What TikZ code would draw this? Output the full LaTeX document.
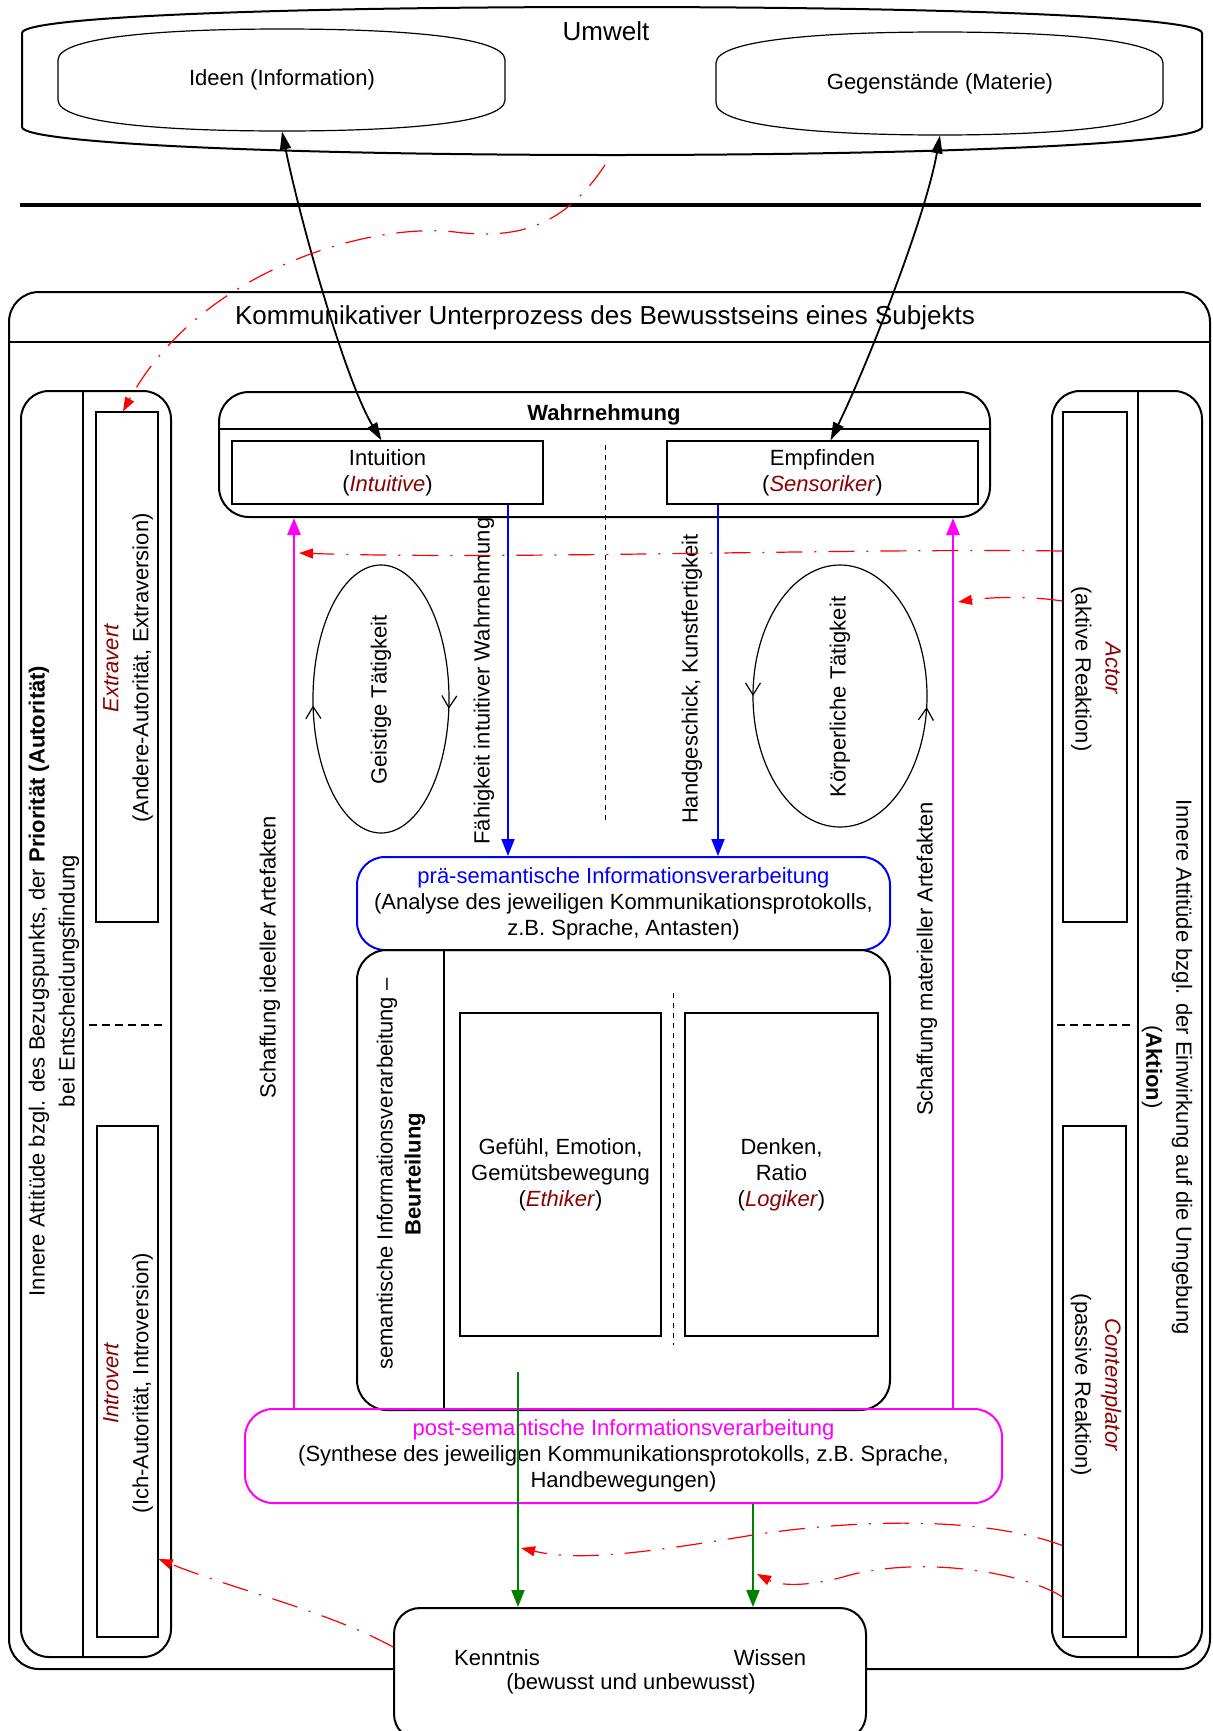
\documentclass[tikz,border=0pt]{standalone}
\usepackage{fontspec}
\setmainfont{Liberation Sans}
\usetikzlibrary{arrows.meta,decorations.markings}
\definecolor{darkred}{RGB}{139,0,0}
\definecolor{darkgreen}{RGB}{0,128,0}
\definecolor{pmagenta}{RGB}{255,0,255}
\definecolor{pblue}{RGB}{0,0,255}
\newcommand{\ptyp}[1]{\textcolor{darkred}{\textit{#1}}}

\begin{document}
\begin{tikzpicture}[x=0.5pt,y=-0.5pt,
  every node/.style={font=\fontsize{11}{13}\selectfont, inner sep=0pt, align=center},
  bigbox/.style={draw, line width=1pt, rounded corners=15pt},
  smallbox/.style={draw, line width=0.6pt},
  sidetext/.style={font=\fontsize{11}{15}\selectfont},
  titletext/.style={font=\fontsize{13}{15}\selectfont},
  middash/.style={line width=0.5pt, dash pattern=on 2.5pt off 2.5pt},
  paneldash/.style={line width=0.6pt, dash pattern=on 4pt off 2.5pt},
  blackarrow/.style={line width=0.9pt, {Triangle[length=9pt,width=5.5pt]}-{Triangle[length=9pt,width=5.5pt]}},
  bluearrow/.style={pblue, line width=1pt, -{Triangle[length=8.5pt,width=6.5pt]}},
  magentaarrow/.style={pmagenta, line width=1.4pt, -{Triangle[length=8.5pt,width=6.5pt]}},
  greenarrow/.style={darkgreen, line width=1pt, -{Triangle[length=8.5pt,width=6.5pt]}},
  redarrow/.style={red, line width=0.6pt, dash pattern=on 13pt off 6pt on 1pt off 6pt, -{Triangle[length=7pt,width=5pt]}},
  turncw/.style={postaction={decorate,decoration={markings,
    mark=at position 0.015 with {\arrow{Straight Barb[length=6pt,width=7.5pt]}},
    mark=at position 0.49 with {\arrow{Straight Barb[length=6pt,width=7.5pt]}}}}},
  turnccw/.style={postaction={decorate,decoration={markings,
    mark=at position 0.016 with {\arrowreversed{Straight Barb[length=6pt,width=7.5pt]}},
    mark=at position 0.5 with {\arrowreversed{Straight Barb[length=6pt,width=7.5pt]}}}}}]
  \useasboundingbox (0,0) rectangle (1212,1731);

  % Umwelt
  \draw[line width=1pt] (22,127) -- (22,33) .. controls (22,16) and (300,7) .. (612,7) .. controls (924,7) and (1202,16) .. (1202,33) -- (1202,127) .. controls (1202,144) and (924,155) .. (612,155) .. controls (300,155) and (22,144) .. (22,127) -- cycle;
  \node[titletext] (umwelt) at (606,31) {Umwelt};
  \draw[line width=0.6pt] (58,100) -- (58,60) .. controls (58,36) and (170,29) .. (282,29) .. controls (394,29) and (505,36) .. (505,60) -- (505,100) .. controls (505,124) and (394,131) .. (282,131) .. controls (170,131) and (58,124) .. (58,100) -- cycle;
  \node[minimum width=223.5pt, minimum height=51pt] (ideen) at (282,80) {Ideen (Information)};
  \draw[line width=0.6pt] (716,103) -- (716,63) .. controls (716,39) and (828,32) .. (940,32) .. controls (1052,32) and (1163,39) .. (1163,63) -- (1163,103) .. controls (1163,127) and (1052,135) .. (940,135) .. controls (828,135) and (716,127) .. (716,103) -- cycle;
  \node[minimum width=223.5pt, minimum height=51.5pt] (gegen) at (940,83.5) {Gegenstände (Materie)};
  \draw[line width=2pt] (20,205) -- (1201,205);

  % Subjekt
  \node[bigbox, minimum width=600.5pt, minimum height=688.5pt] (kbox) at (609.5,980.5) {};
  \node[titletext] (ktitle) at (605,318) {Kommunikativer Unterprozess des Bewusstseins eines Subjekts};
  \draw[line width=0.6pt] (9,342) -- (1210,342);

  % linke Attituede
  \node[bigbox, rounded corners=14pt, minimum width=75pt, minimum height=633pt] (leftp) at (96,1024) {};
  \draw[line width=0.6pt] (83,391) -- (83,1657);
  \draw[paneldash] (89,1025) -- (165,1025);
  \node[sidetext, rotate=90] (lefttext) at (54,981) {Innere Attitüde bzgl. des Bezugspunkts, der \textbf{Priorität (Autorität)}\\bei Entscheidungsfindung};
  \node[smallbox, minimum width=31pt, minimum height=255pt] (extra) at (127,667) {};
  \node[sidetext, rotate=90] (extratext) at (128,668) {\ptyp{Extravert}\\(Andere-Autorität, Extraversion)};
  \node[smallbox, minimum width=30.5pt, minimum height=255.5pt] (intro) at (127.5,1381.5) {};
  \node[sidetext, rotate=90] (introtext) at (128,1383) {\ptyp{Introvert}\\(Ich-Autorität, Introversion)};

  % rechte Attituede
  \node[bigbox, rounded corners=14pt, minimum width=75pt, minimum height=633pt] (rightp) at (1127,1024) {};
  \draw[line width=0.6pt] (1138,391) -- (1138,1657);
  \draw[paneldash] (1057,1025) -- (1133,1025);
  \node[sidetext, rotate=-90] (righttext) at (1167,1067) {Innere Attitüde bzgl. der Einwirkung auf die Umgebung\\(\textbf{Aktion})};
  \node[smallbox, minimum width=32pt, minimum height=255pt] (actor) at (1095,667) {};
  \node[sidetext, rotate=-90] (actortext) at (1096,669) {\ptyp{Actor}\\(aktive Reaktion)};
  \node[smallbox, minimum width=31.5pt, minimum height=255.5pt] (contemp) at (1094.5,1381.5) {};
  \node[sidetext, rotate=-90] (contemptext) at (1096,1385) {\ptyp{Contemplator}\\(passive Reaktion)};

  % Wahrnehmung
  \node[bigbox, minimum width=385.5pt, minimum height=62.5pt] (wahr) at (604.5,454.5) {};
  \draw[line width=0.7pt] (219,429) -- (990,429);
  \node[font=\fontsize{11}{13}\selectfont\bfseries] (wahrtitle) at (604,415) {Wahrnehmung};
  \node[smallbox, minimum width=155.5pt, minimum height=31.5pt] (intu) at (387.5,472.5) {Intuition\\(\ptyp{Intuitive})};
  \node[smallbox, minimum width=155.5pt, minimum height=31.5pt] (empf) at (822.5,472.5) {Empfinden\\(\ptyp{Sensoriker})};
  \draw[middash] (605,445) -- (605,822);

  % Taetigkeiten
  \draw[line width=0.6pt, turncw] (381,699) ellipse [x radius=68, y radius=134];
  \node[rotate=90] (geisttext) at (381,700) {Geistige Tätigkeit};
  \draw[line width=0.6pt, turnccw] (840,696) ellipse [x radius=87, y radius=131];
  \node[rotate=90] (koerptext) at (840,697) {Körperliche Tätigkeit};
  \node[rotate=90] (faehig) at (484,681) {Fähigkeit intuitiver Wahrnehmung};
  \node[rotate=90] (handg) at (692,679) {Handgeschick, Kunstfertigkeit};
  \node[rotate=90] (ideell) at (270,957) {Schaffung ideeller Artefakten};
  \node[rotate=90] (materiell) at (927,959) {Schaffung materieller Artefakten};

  % Verarbeitung
  \node[draw=pblue, line width=1pt, rounded corners=14pt, minimum width=266.5pt, minimum height=46.5pt] (pre) at (623.5,903.5) {\textcolor{pblue}{prä-semantische Informationsverarbeitung}\\(Analyse des jeweiligen Kommunikationsprotokolls,\\z.B. Sprache, Antasten)};
  \node[bigbox, minimum width=266.5pt, minimum height=230pt] (sem) at (623.5,1180) {};
  \draw[line width=0.6pt] (444,950) -- (444,1410);
  \node[rotate=90, font=\fontsize{11}{14}\selectfont] (semtext) at (401,1174) {semantische Informationsverarbeitung –\\\textbf{Beurteilung}};
  \node[smallbox, minimum width=100.5pt, minimum height=161.5pt] (gef) at (560.5,1174.5) {Gefühl, Emotion,\\Gemütsbewegung\\(\ptyp{Ethiker})};
  \node[smallbox, minimum width=96.5pt, minimum height=161.5pt] (denk) at (781.5,1174.5) {Denken,\\Ratio\\(\ptyp{Logiker})};
  \draw[middash] (673,993) -- (673,1345);
  \node[draw=pmagenta, line width=1pt, rounded corners=14pt, minimum width=378.5pt, minimum height=47pt] (post) at (623.5,1456) {\textcolor{pmagenta}{post-semantische Informationsverarbeitung}\\(Synthese des jeweiligen Kommunikationsprotokolls, z.B. Sprache,\\Handbewegungen)};

  % Kenntnis
  \node[bigbox, rounded corners=13pt, fill=white, minimum width=236pt, minimum height=66pt] (kenn) at (630,1674) {};
  \node (kenntnis) at (497,1658) {Kenntnis};
  \node (wissen) at (770,1658) {Wissen};
  \node (bewusst) at (631,1684) {(bewusst und unbewusst)};

  % Pfeile
  \draw[blackarrow] (ideen.south) .. controls (300,220) and (345,380) .. ([xshift=-3pt]intu.north);
  \draw[blackarrow] (gegen.south) .. controls (925,220) and (865,370) .. ([xshift=4pt]empf.north);
  \coordinate (xfaehig) at (508,0);
  \coordinate (xhand) at (718,0);
  \draw[bluearrow] (intu.south -| xfaehig) -- (pre.north -| xfaehig);
  \draw[bluearrow] (empf.south -| xhand) -- (pre.north -| xhand);
  \coordinate (xideell) at (294,0);
  \coordinate (xmateriell) at (953,0);
  \draw[magentaarrow] (post.north -| xideell) -- (wahr.south -| xideell);
  \draw[magentaarrow] (post.north -| xmateriell) -- (wahr.south -| xmateriell);
  \coordinate (semfoot) at (518,1372);
  \coordinate (xwissen) at (753,0);
  \draw[greenarrow] (semfoot) -- (kenn.north -| semfoot);
  \draw[greenarrow] (post.south -| xwissen) -- (kenn.north -| xwissen);

  % Einfluesse
  \coordinate (umweltfoot) at (605,165);
  \draw[redarrow] (umweltfoot) .. controls (565,225) and (520,240) .. (455,232) .. controls (370,222) and (200,270) .. ([xshift=-2pt]extra.north);
  \coordinate (tipideell) at (299,553);
  \draw[redarrow] ([yshift=58pt]actor.west) .. controls (850,548) and (500,560) .. (tipideell);
  \coordinate (tipmateriell) at (958,602);
  \draw[redarrow] ([yshift=33pt]actor.west) .. controls (1030,596) and (990,597) .. (tipmateriell);
  \coordinate (tipkenntnis) at (521,1548);
  \draw[redarrow] ([yshift=-82pt]contemp.west) .. controls (980,1515) and (850,1520) .. (753,1535) .. controls (650,1552) and (580,1562) .. (tipkenntnis);
  \coordinate (tipwissen) at (757,1574);
  \draw[redarrow] ([yshift=-107.75pt]contemp.west) .. controls (1030,1575) and (930,1555) .. (850,1575) .. controls (810,1587) and (780,1586) .. (tipwissen);
  \draw[redarrow] ([yshift=13.5pt]kenn.west) .. controls (330,1612) and (230,1588) .. ([yshift=-88.75pt]intro.east);
\end{tikzpicture}
\end{document}
